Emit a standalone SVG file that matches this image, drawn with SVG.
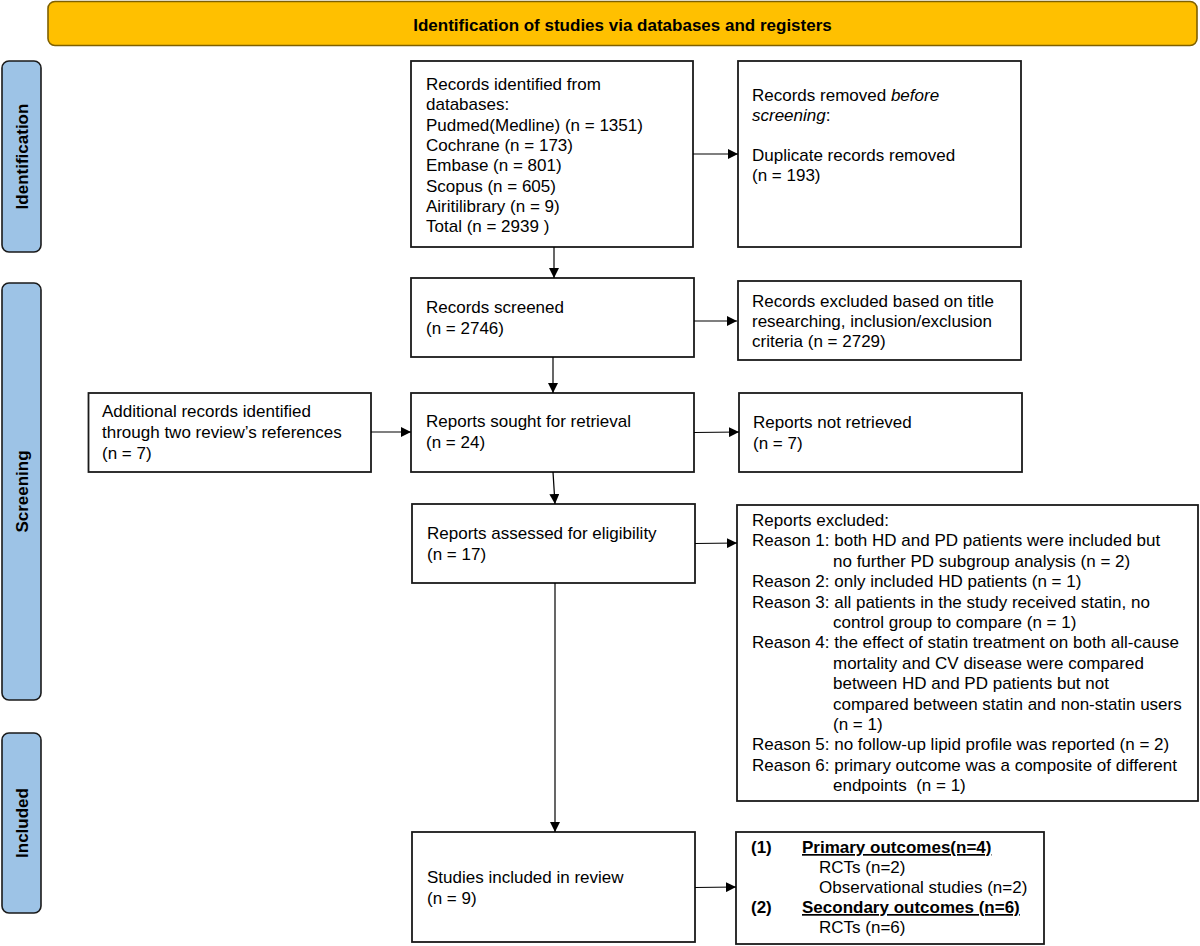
<svg xmlns="http://www.w3.org/2000/svg" width="1200" height="946" viewBox="0 0 1200 946">
<style>
text{font-family:"Liberation Sans",Arial,sans-serif;font-size:17px;fill:#000}
.b{font-weight:bold}
.box{fill:#fff;stroke:#1a1a1a;stroke-width:1.8}
.side{fill:#9DC3E6;stroke:#1a1a1a;stroke-width:1.6}
.con{stroke:#000;stroke-width:1.2;fill:none;marker-end:url(#ah)}
</style>
<defs>
<marker id="ah" markerUnits="userSpaceOnUse" markerWidth="10" markerHeight="10" refX="10" refY="5" orient="auto">
<path d="M0,0 L10,5 L0,10 z" fill="#000"/>
</marker>
</defs>
<rect width="1200" height="946" fill="#fff"/>
<g id="header">
<rect x="48" y="1.5" width="1149" height="44" rx="7" fill="#FFC000" stroke="#7F6000" stroke-width="1.6"/>
<text class="b" x="622.5" y="31" text-anchor="middle">Identification of studies via databases and registers</text>
</g>
<g id="side-identification">
<rect class="side" x="2" y="61" width="39" height="191" rx="7"/>
<text class="b" transform="translate(28,156.5) rotate(-90)" text-anchor="middle">Identification</text>
</g>
<g id="side-screening">
<rect class="side" x="2" y="283" width="39" height="417" rx="7"/>
<text class="b" transform="translate(28,491.5) rotate(-90)" text-anchor="middle">Screening</text>
</g>
<g id="side-included">
<rect class="side" x="2" y="733" width="39" height="180" rx="7"/>
<text class="b" transform="translate(28,823) rotate(-90)" text-anchor="middle">Included</text>
</g>
<g id="records-identified">
<rect class="box" x="411" y="61" width="282" height="186"/>
<text x="426" y="90">Records identified from</text>
<text x="426" y="110.3">databases:</text>
<text x="426" y="130.6">Pudmed(Medline) (n = 1351)</text>
<text x="426" y="150.9">Cochrane (n = 173)</text>
<text x="426" y="171.2">Embase (n = 801)</text>
<text x="426" y="191.5">Scopus (n = 605)</text>
<text x="426" y="211.8">Airitilibrary (n = 9)</text>
<text x="426" y="232.1">Total (n = 2939 )</text>
</g>
<g id="records-removed">
<rect class="box" x="738" y="61" width="283" height="186"/>
<text x="752" y="101">Records removed <tspan font-style="italic">before</tspan></text>
<text x="752" y="121"><tspan font-style="italic">screening</tspan>:</text>
<text x="752" y="160.5">Duplicate records removed</text>
<text x="752" y="180.5">(n = 193)</text>
</g>
<g id="records-screened">
<rect class="box" x="411" y="278" width="283" height="79"/>
<text x="426" y="313">Records screened</text>
<text x="426" y="334">(n = 2746)</text>
</g>
<g id="records-excluded">
<rect class="box" x="738" y="281" width="283" height="79"/>
<text x="752" y="307">Records excluded based on title</text>
<text x="752" y="327">researching, inclusion/exclusion</text>
<text x="752" y="347">criteria (n = 2729)</text>
</g>
<g id="additional-records">
<rect class="box" x="88.5" y="393" width="282.5" height="79"/>
<text x="102" y="417">Additional records identified</text>
<text x="102" y="438">through two review’s references</text>
<text x="102" y="459">(n = 7)</text>
</g>
<g id="reports-sought">
<rect class="box" x="411" y="393" width="283" height="79"/>
<text x="426" y="427">Reports sought for retrieval</text>
<text x="426" y="448">(n = 24)</text>
</g>
<g id="reports-not-retrieved">
<rect class="box" x="739" y="393" width="283" height="79"/>
<text x="753" y="428">Reports not retrieved</text>
<text x="753" y="449">(n = 7)</text>
</g>
<g id="reports-assessed">
<rect class="box" x="412" y="504" width="283" height="79"/>
<text x="427" y="539">Reports assessed for eligibility</text>
<text x="427" y="560">(n = 17)</text>
</g>
<g id="reports-excluded">
<rect class="box" x="737" y="505" width="461" height="296"/>
<text x="752" y="526">Reports excluded:</text>
<text x="752" y="546.4">Reason 1: both HD and PD patients were included but</text>
<text x="833" y="566.8">no further PD subgroup analysis (n = 2)</text>
<text x="752" y="587.2">Reason 2: only included HD patients (n = 1)</text>
<text x="752" y="607.6">Reason 3: all patients in the study received statin, no</text>
<text x="833" y="628">control group to compare (n = 1)</text>
<text x="752" y="648.4">Reason 4: the effect of statin treatment on both all-cause</text>
<text x="833" y="668.8">mortality and CV disease were compared</text>
<text x="833" y="689.2">between HD and PD patients but not</text>
<text x="833" y="709.6">compared between statin and non-statin users</text>
<text x="833" y="730">(n = 1)</text>
<text x="752" y="750.4">Reason 5: no follow-up lipid profile was reported (n = 2)</text>
<text x="752" y="770.8">Reason 6: primary outcome was a composite of different</text>
<text x="833" y="791.2" xml:space="preserve">endpoints  (n = 1)</text>
</g>
<g id="studies-included">
<rect class="box" x="412" y="832" width="283" height="110"/>
<text x="427" y="883">Studies included in review</text>
<text x="427" y="904">(n = 9)</text>
</g>
<g id="outcomes">
<rect class="box" x="736" y="832" width="308" height="112"/>
<text class="b" x="751" y="853">(1)</text>
<text class="b" x="802" y="853" text-decoration="underline">Primary outcomes(n=4)</text>
<text x="819" y="873">RCTs (n=2)</text>
<text x="819" y="893">Observational studies (n=2)</text>
<text class="b" x="751" y="913">(2)</text>
<text class="b" x="802" y="913" text-decoration="underline">Secondary outcomes (n=6)</text>
<text x="819" y="933">RCTs (n=6)</text>
</g>
<g id="connectors">
<line class="con" x1="554" y1="247" x2="554" y2="278"/>
<line class="con" x1="693" y1="154" x2="738" y2="154"/>
<line class="con" x1="694" y1="321" x2="737" y2="321"/>
<line class="con" x1="553" y1="357" x2="553" y2="393"/>
<line class="con" x1="371" y1="432" x2="411" y2="432"/>
<line class="con" x1="694" y1="432.5" x2="739" y2="432"/>
<line class="con" x1="553" y1="472" x2="555" y2="504"/>
<line class="con" x1="695" y1="543.5" x2="737" y2="543"/>
<line class="con" x1="555" y1="583" x2="555" y2="832"/>
<line class="con" x1="695" y1="887.5" x2="736" y2="887"/>
</g>
</svg>
